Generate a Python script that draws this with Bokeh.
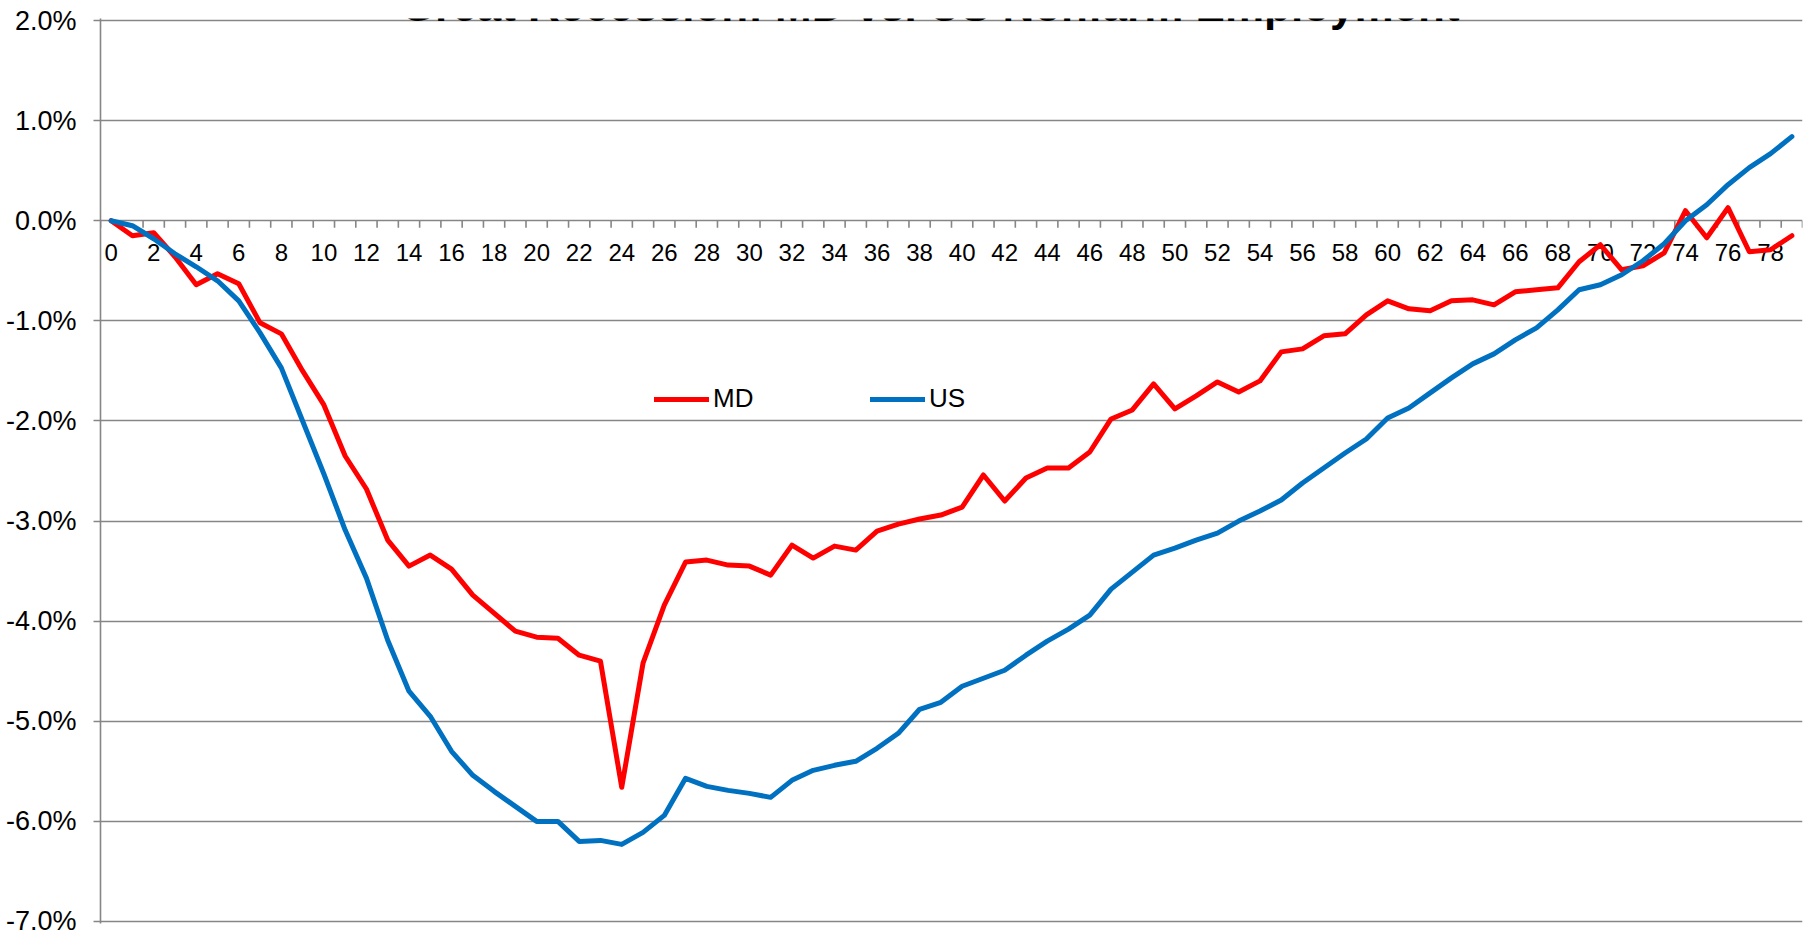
from bokeh.plotting import figure
from bokeh.models import Range1d, FixedTicker, PrintfTickFormatter, Legend, LegendItem, Label
from bokeh.core.properties import value
from bokeh.embed import file_html
from bokeh.resources import INLINE

title_text = "Great Recession: MD vs. US Nonfarm Employment"

months = list(range(80))
x_tick_labels = [str(m) for m in range(0, 80, 2)]

md = [0.00, -0.15, -0.12, -0.36, -0.64, -0.53, -0.63, -1.02, -1.13, -1.50,
      -1.84, -2.35, -2.68, -3.19, -3.45, -3.34, -3.48, -3.74, -3.92, -4.10,
      -4.16, -4.17, -4.34, -4.40, -5.66, -4.42, -3.84, -3.41, -3.39, -3.44,
      -3.45, -3.54, -3.24, -3.37, -3.25, -3.29, -3.10, -3.03, -2.98, -2.94,
      -2.86, -2.54, -2.80, -2.57, -2.47, -2.47, -2.31, -1.98, -1.89, -1.63,
      -1.88, -1.75, -1.61, -1.71, -1.60, -1.31, -1.28, -1.15, -1.13, -0.94,
      -0.80, -0.88, -0.90, -0.80, -0.79, -0.84, -0.71, -0.69, -0.67, -0.41,
      -0.24, -0.49, -0.45, -0.32, 0.10, -0.17, 0.13, -0.31, -0.29, -0.15]

us = [0.00, -0.05, -0.18, -0.33, -0.46, -0.60, -0.80, -1.12, -1.47, -2.00,
      -2.53, -3.09, -3.57, -4.19, -4.70, -4.95, -5.30, -5.54, -5.70, -5.85,
      -6.00, -6.00, -6.20, -6.19, -6.23, -6.11, -5.94, -5.57, -5.65, -5.69,
      -5.72, -5.76, -5.59, -5.49, -5.44, -5.40, -5.27, -5.12, -4.88, -4.81,
      -4.65, -4.57, -4.49, -4.34, -4.20, -4.08, -3.94, -3.68, -3.51, -3.34,
      -3.27, -3.19, -3.12, -3.00, -2.90, -2.79, -2.62, -2.47, -2.32, -2.18,
      -1.97, -1.87, -1.72, -1.57, -1.43, -1.33, -1.19, -1.07, -0.89, -0.69,
      -0.64, -0.54, -0.40, -0.23, 0.00, 0.16, 0.36, 0.53, 0.67, 0.84]

y_ticks = [-7, -6, -5, -4, -3, -2, -1, 0, 1, 2]

GRAY = "#868686"
FONT = "Liberation Sans"

p = figure(width=1806, height=935, output_backend="svg", toolbar_location=None,
           x_axis_location=None,
           x_range=Range1d(-0.5, 79.5), y_range=Range1d(-7.02, 2.02),
           min_border_left=100, min_border_right=4, min_border_top=18,
           min_border_bottom=12)
p.outline_line_color = None
p.background_fill_color = "white"
p.border_fill_color = "white"

p.xgrid.visible = False
p.ygrid.ticker = FixedTicker(ticks=y_ticks)
p.ygrid.grid_line_color = GRAY
p.ygrid.grid_line_width = 1.6

yax = p.yaxis[0]
yax.ticker = FixedTicker(ticks=y_ticks)
yax.formatter = PrintfTickFormatter(format="%.1f%%")
yax.minor_tick_line_color = None
yax.major_tick_in = 0
yax.major_tick_out = 7
yax.axis_line_color = GRAY
yax.axis_line_width = 1.6
yax.major_tick_line_color = GRAY
yax.major_tick_line_width = 1.6
yax.major_label_text_font = FONT
yax.major_label_text_font_size = "27px"
yax.major_label_text_color = "black"
yax.major_label_standoff = 17

# category axis drawn along the 0% line
boundaries = [m - 0.5 for m in months] + [months[-1] + 0.5]
p.segment(x0=boundaries, y0=[0] * len(boundaries), x1=boundaries,
          y1=[-0.07] * len(boundaries), line_color=GRAY, line_width=1.6)
p.text(x=months[::2], y=[0] * len(x_tick_labels), text=x_tick_labels,
       y_offset=32, text_align="center", text_baseline="middle",
       text_font=value(FONT), text_font_size="24px", text_color="black")

r_md = p.line(months, md, line_color="#FF0000", line_width=5,
              line_join="round", line_cap="round")
r_us = p.line(months, us, line_color="#0070C0", line_width=5,
              line_join="round", line_cap="round")

legend = Legend(items=[LegendItem(label="MD", renderers=[r_md]),
                       LegendItem(label="US", renderers=[r_us])],
                location=(554, 509), orientation="horizontal",
                glyph_width=55, glyph_height=20, label_standoff=4,
                label_width=150, spacing=7, padding=0, margin=0,
                border_line_color=None, background_fill_alpha=0,
                label_text_font=FONT, label_text_font_size="26px",
                label_text_color="black")
p.add_layout(legend)

title = Label(x=38.5, y=2.151, text=title_text, text_align="center",
              text_baseline="alphabetic", text_font=FONT,
              text_font_size="44px", text_font_style="bold",
              text_color="black")
p.add_layout(title)

open("out.html", "w").write(file_html(p, INLINE))
